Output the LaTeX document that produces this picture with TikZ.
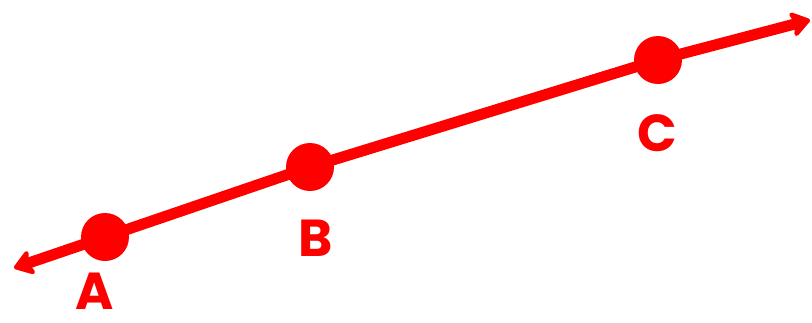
\documentclass[tikz,border=0pt]{standalone}
\usepackage{fontspec}
\usetikzlibrary{arrows.meta,backgrounds}
\newfontfamily\lblfont{Poppins}
\definecolor{linered}{HTML}{FF0000}
\tikzset{
  dot/.style={circle,fill=linered,minimum size=48pt,inner sep=0pt},
  pointlabel/.style={font=\lblfont\bfseries\fontsize{52}{52}\selectfont,text=linered,inner sep=0pt},
  lineof/.style={{Stealth[length=22pt,width=30pt,inset=5pt,round]}-{Stealth[length=22pt,width=30pt,inset=5pt,round]},line width=11pt,draw=linered,line join=round},
}

\begin{document}
\begin{tikzpicture}[x=1pt,y=-1pt]
\useasboundingbox (0,0) rectangle (812,322);

\coordinate (endL) at (14,268);
\coordinate (endR) at (810,20);
\node[dot] (A) at (105,237) {};
\node[dot] (B) at (310,167) {};
\node[dot] (C) at (658,60) {};

\node[pointlabel] (labA) at (95,291) {A};
\node[pointlabel] (labB) at (316,238) {B};
\node[pointlabel] (labC) at (657,133) {C};

\begin{scope}[on background layer]
\draw[lineof] (endL) -- (A.center) -- (B.center) -- (C.center) -- (endR);
\end{scope}

\end{tikzpicture}
\end{document}
